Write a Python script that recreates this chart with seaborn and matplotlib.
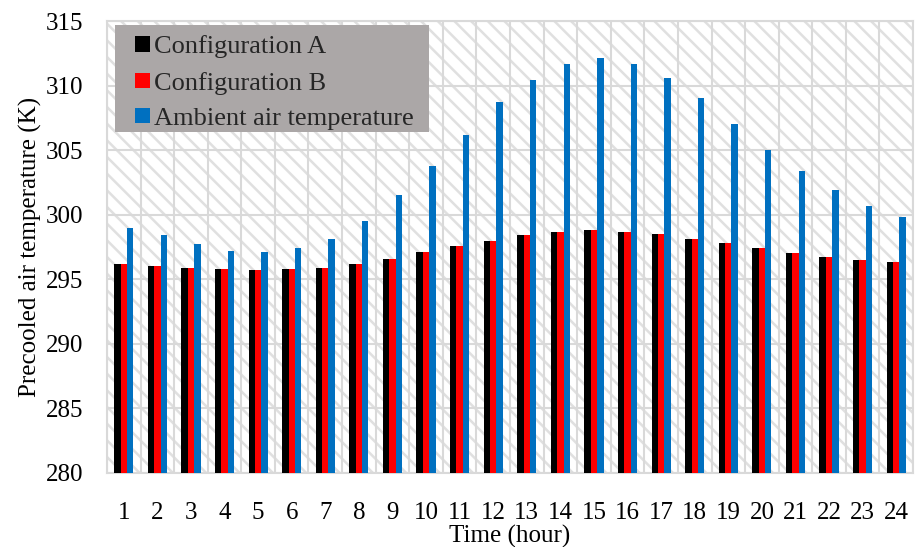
import matplotlib
matplotlib.use("Agg")
import matplotlib.pyplot as plt
from matplotlib.patches import Rectangle
from matplotlib.ticker import MultipleLocator, FixedLocator
import pandas as pd
import seaborn as sns

hours = list(range(1, 25))
config_a = [296.2, 296.0, 295.9, 295.8, 295.7, 295.8, 295.9, 296.2, 296.6, 297.1,
            297.6, 298.0, 298.4, 298.7, 298.8, 298.7, 298.5, 298.1, 297.8, 297.4,
            297.0, 296.7, 296.5, 296.3]
config_b = [296.2, 296.0, 295.9, 295.8, 295.7, 295.8, 295.9, 296.2, 296.6, 297.1,
            297.6, 298.0, 298.4, 298.7, 298.8, 298.7, 298.5, 298.1, 297.8, 297.4,
            297.0, 296.7, 296.5, 296.3]
ambient = [299.0, 298.4, 297.7, 297.2, 297.1, 297.4, 298.1, 299.5, 301.5, 303.8,
           306.2, 308.7, 310.4, 311.7, 312.1, 311.7, 310.6, 309.0, 307.0, 305.0,
           303.4, 301.9, 300.7, 299.8]
series_names = ["Configuration A", "Configuration B", "Ambient air temperature"]
colors = ["#000000", "#FF0000", "#0070C0"]

df = pd.DataFrame({
    "hour": hours * 3,
    "temp": config_a + config_b + ambient,
    "series": [series_names[0]] * 24 + [series_names[1]] * 24 + [series_names[2]] * 24,
})

sns.set_theme(style="white")
plt.rcParams["font.family"] = ["Liberation Serif", "DejaVu Serif"]
plt.rcParams["hatch.linewidth"] = 1.8

FS = 18

fig, ax = plt.subplots(figsize=(9.19, 5.47), dpi=100)
fig.subplots_adjust(left=0.1164, right=0.9935, top=0.9616, bottom=0.1353)

grid_c = "#d9d9d9"
# hatched plot background
ax.add_patch(Rectangle((0, 0), 1, 1, transform=ax.transAxes, facecolor="white",
                       edgecolor="#e0e0e0", hatch="\\\\", linewidth=0, zorder=0))

sns.barplot(data=df, x="hour", y="temp", hue="series", hue_order=series_names,
            palette=colors, width=0.57, saturation=1, ax=ax, zorder=3,
            linewidth=0, errorbar=None)

ax.set_ylim(280, 315)
ax.set_xlim(-0.5, 23.5)
ax.yaxis.set_major_locator(MultipleLocator(5))
ax.xaxis.set_minor_locator(FixedLocator([i - 0.5 for i in range(25)]))
ax.grid(True, which="major", axis="y", color=grid_c, linewidth=1.5, zorder=1)
ax.grid(True, which="minor", axis="x", color=grid_c, linewidth=1.5, zorder=1)
ax.grid(False, which="major", axis="x")
ax.set_axisbelow(True)
for s in ax.spines.values():
    s.set_color(grid_c)
    s.set_linewidth(1.5)

ax.tick_params(axis="x", which="both", length=0, pad=21, labelsize=FS, colors="black")
ax.tick_params(axis="y", which="both", length=0, pad=17, labelsize=FS, colors="black")

ax.set_xlabel("Time (hour)", fontsize=FS, color="black")
ax.set_ylabel("Precooled air temperature (K)", fontsize=FS, color="black")
ax.xaxis.set_label_coords(0.5, -0.114)
ax.yaxis.set_label_coords(-0.08, 0.5)

# grey legend panel
ax.add_patch(Rectangle((0.0099, 0.7544), 0.3896, 0.2368, transform=ax.transAxes,
                       facecolor="#ABA7A7", edgecolor="none", zorder=4))
leg = ax.legend(loc="upper left", bbox_to_anchor=(0.0347, 0.968), fontsize=19,
                frameon=False, handlelength=0.57, handleheight=0.53, handletextpad=0.15,
                labelspacing=0.5, borderpad=0, borderaxespad=0, title=None)
leg.set_zorder(5)

fig.savefig("out.png", dpi=100, facecolor="white")
